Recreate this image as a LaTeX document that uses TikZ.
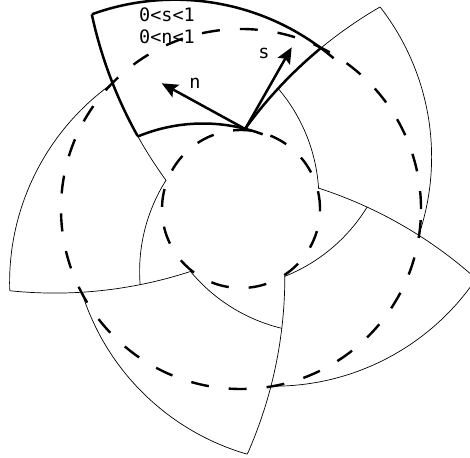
\documentclass[tikz,border=0pt]{standalone}
\usepackage{fontspec}
\newfontfamily\monofont{DejaVu Sans Mono}
\usetikzlibrary{arrows.meta}
\begin{document}
\begin{tikzpicture}[x=1pt,y=1pt,
  thinline/.style={line width=0.7pt, black},
  boldline/.style={line width=2.5pt, black},
  dashring/.style={line width=2.4pt, dash pattern=on 18pt off 20pt},
  vec/.style={line width=2.5pt, -{Stealth[length=16pt,width=14pt,inset=3pt]}},
  lab/.style={font=\monofont\fontsize{18.5}{22}\selectfont, inner sep=0pt}]
\useasboundingbox (-241,-248) rectangle (229,209);
\clip (-241,-248) rectangle (229,209);
\foreach \k in {0,...,4}{
  \begin{scope}[rotate=-72*\k]
    \draw[thinline] (358,-176) ++(144.13:436.9) arc[start angle=144.13,end angle=120.1,radius=436.9];
    \draw[thinline] (-38,-85) ++(112.58:170.5) arc[start angle=112.58,end angle=75.61,radius=170.5];
    \draw[thinline] (-66,-35) ++(109.86:244.3) arc[start angle=109.86,end angle=53.29,radius=244.3];
  \end{scope}
}
\draw[dashring] (0,0) circle[radius=79];
\draw[dashring] (0,0) circle[radius=180];
% highlighted patch
\draw[boldline] (-66,-35) ++(109.86:244.3) arc[start angle=109.86,end angle=49.5,radius=244.3];
\begin{scope}[rotate=72]
\draw[boldline] (358,-176) ++(120.1:436.9) arc[start angle=120.1,end angle=137.17,radius=436.9];
\end{scope}
\draw[boldline] (-38,-85) ++(112.58:170.5) arc[start angle=112.58,end angle=69.5,radius=170.5];
\draw[boldline] (358,-176) ++(144.13:436.9) arc[start angle=144.13,end angle=129.52,radius=436.9];
\coordinate (P) at (4.2,80);
\coordinate (ntip) at (-79.3,125.7);
\coordinate (stip) at (50.7,161.7);
\draw[vec] (P) -- (ntip);
\draw[vec] (P) -- (stip);
\node[lab] (nlab) at (-46,126) {n};
\node[lab] (slab) at (23,156) {s};
\node[lab,anchor=west] (srange) at (-102,194) {0<s<1};
\node[lab,anchor=west] (nrange) at (-102,172) {0<n<1};
\end{tikzpicture}
\end{document}
